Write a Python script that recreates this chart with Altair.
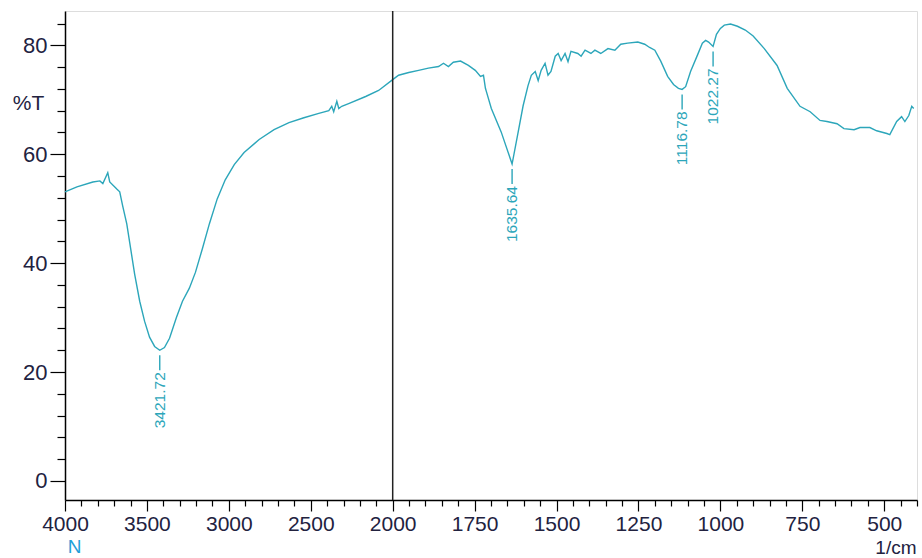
import altair as alt
import pandas as pd

# ---- spectrum data (wavenumber in 1/cm, transmittance in %T) ----
wavenumber = [
    4000, 3927, 3830, 3787, 3769, 3739, 3727, 3684, 3666, 3648, 3623, 3599, 3575,
    3544, 3514, 3484, 3453, 3421.72, 3393, 3362, 3320, 3283, 3241, 3204, 3162,
    3119, 3071, 3022, 2967, 2907, 2815, 2724, 2633, 2542, 2451, 2390, 2372, 2360,
    2341, 2329, 2311, 2269, 2165, 2086, 2000,
    1982, 1951, 1921, 1891, 1860, 1845, 1830, 1815, 1793, 1769, 1748, 1732, 1723,
    1717, 1714, 1699, 1669, 1635.64, 1617, 1602, 1587, 1577, 1565, 1556, 1547,
    1535, 1526, 1517, 1504, 1495, 1486, 1474, 1465, 1456, 1435, 1425, 1413, 1395,
    1383, 1365, 1343, 1322, 1304, 1283, 1252, 1231, 1216, 1200, 1182, 1161, 1143,
    1128, 1116.78, 1106, 1091, 1070, 1055, 1045, 1036, 1022.27, 1012, 1000, 988,
    969, 948, 924, 900, 866, 827, 796, 757, 726, 696, 675, 644, 623, 592, 574,
    544, 523, 492, 483, 462, 447, 437, 425, 416, 410,
]
transmittance = [
    53.1, 54.0, 54.9, 55.1, 54.6, 56.6, 54.9, 53.6, 53.1, 50.5, 47.2, 42.6, 38.0,
    33.0, 29.3, 26.4, 24.7, 24.0, 24.5, 26.2, 30.0, 33.0, 35.4, 38.3, 42.6,
    47.2, 51.8, 55.3, 58.1, 60.3, 62.7, 64.5, 65.8, 66.7, 67.5, 68.0, 68.8, 67.8,
    69.7, 68.4, 68.8, 69.3, 70.6, 71.7, 73.7,
    74.5, 75.0, 75.4, 75.8, 76.1, 76.7, 76.1, 76.9, 77.1, 76.3, 75.4, 74.3, 74.5,
    72.1, 71.5, 68.4, 64.1, 58.2, 64.1, 68.9, 72.6, 74.5, 75.2, 73.5, 75.4,
    76.7, 74.5, 75.2, 78.0, 78.5, 77.2, 78.5, 77.0, 78.9, 78.5, 78.0, 79.1, 78.5,
    79.1, 78.5, 79.4, 79.1, 80.2, 80.4, 80.6, 80.2, 79.6, 79.1, 77.1, 74.3, 72.8,
    72.1, 71.9, 72.4, 75.2, 78.2, 80.4, 80.9, 80.6, 79.8, 82.0, 83.1, 83.7,
    83.9, 83.5, 82.8, 81.7, 79.4, 76.3, 72.1, 68.8, 67.8, 66.2, 66.0, 65.6, 64.7,
    64.5, 64.9, 64.9, 64.3, 63.8, 63.6, 66.0, 66.9, 66.0, 67.1, 68.8, 68.4,
]

# ---- labelled peaks ----
peak_wavenumber = [3421.72, 1635.64, 1116.78, 1022.27]
peak_transmittance = [24.0, 58.2, 71.9, 79.8]
peak_labels = ["3421.72", "1635.64", "1116.78", "1022.27"]

# ---- axis ticks ----
x_major_labels = [4000, 3500, 3000, 2500, 2000, 1750, 1500, 1250, 1000, 750, 500]
y_major_labels = [0, 20, 40, 60, 80]
break_wavenumber = [2000]

LINE = "#2ca6ba"
INK = "#22223f"
FONT = "Liberation Sans"

# piecewise axis: 4000-2000 compressed 2x relative to 2000-400
U = "datum.w >= 2000 ? (4000 - datum.w) / 2 : 3000 - datum.w"
label_expr = ("datum.value % 250 === 0 ? (datum.value <= 1000 ? "
              "4000 - 2 * datum.value : 3000 - datum.value) : ''")

spec = pd.DataFrame({"w": wavenumber, "T": transmittance})
peaks = pd.DataFrame({"w": peak_wavenumber, "T": peak_transmittance, "label": peak_labels})
brk = pd.DataFrame({"w": break_wavenumber})

x_ticks = list(range(0, 2601, 50))
y_ticks = list(range(0, 85, 4))

xscale = alt.Scale(domain=[0, 2600], nice=False, zero=False)
yscale = alt.Scale(domain=[-3.5, 86.3], nice=False, zero=False)

x_axis = alt.Axis(
    values=x_ticks, labelExpr=label_expr, labelOverlap=False, labelFlush=False,
    tickSize={"condition": {"test": "datum.value % 250 === 0", "value": 11}, "value": 6},
    tickColor="black", domainColor="black", domainWidth=1.5, tickWidth=1.2,
    labelFontSize=21, labelColor=INK, labelFont=FONT, labelPadding=2, grid=False,
    title="1/cm", titleFont=FONT, titleFontSize=19, titleFontWeight="normal",
    titleColor=INK, titleAlign="right", titleBaseline="alphabetic",
    titleX=851, titleY=53,
)
y_axis = alt.Axis(
    values=y_ticks, labelExpr="datum.value % 20 === 0 ? datum.value : ''",
    labelOverlap=False, labelFlush=False,
    tickSize={"condition": {"test": "datum.value % 20 === 0", "value": 15}, "value": 8},
    tickColor="black", domainColor="black", domainWidth=1.5, tickWidth=1.2,
    labelFontSize=22, labelColor=INK, labelFont=FONT, labelPadding=3, grid=False,
    title="%T", titleFont=FONT, titleFontSize=21, titleFontWeight="normal",
    titleColor=INK, titleAngle=0, titleAlign="center", titleBaseline="middle",
    titleX=-37, titleY=92,
)

X = alt.X("u:Q", scale=xscale, axis=x_axis)
Y = alt.Y("T:Q", scale=yscale, axis=y_axis)

line = alt.Chart(spec).transform_calculate(u=U).mark_line(
    color=LINE, strokeWidth=1.4
).encode(x=X, y=Y, order="u:Q")

break_rule = alt.Chart(brk).transform_calculate(u=U).mark_rule(
    color="#222222", strokeWidth=1.5
).encode(x=X)

peak_rule = alt.Chart(peaks).transform_calculate(u=U).mark_rule(
    color=LINE, strokeWidth=1.4, yOffset=5, y2Offset=20
).encode(x=X, y=Y, y2="T:Q")

peak_text = alt.Chart(peaks).transform_calculate(u=U).mark_text(
    angle=270, align="right", baseline="middle", yOffset=22,
    fontSize=15.5, font=FONT, color=LINE
).encode(x=X, y=Y, text="label:N")

n_text = alt.Chart(pd.DataFrame({"t": ["N"]})).mark_text(
    align="center", baseline="alphabetic", fontSize=19, font=FONT, color="#22a0d8"
).encode(x=alt.value(9.5), y=alt.value(542), text="t:N")

chart = alt.layer(line, break_rule, peak_rule, peak_text, n_text).properties(
    width=852, height=489,
    autosize=alt.AutoSizeParams(type="none"),
    padding={"left": 65, "top": 11, "right": 5, "bottom": 58},
).configure_view(stroke="black", strokeWidth=1.5).configure(background="white")

chart.save("out.html", embed_options={"renderer": "svg", "actions": False})
